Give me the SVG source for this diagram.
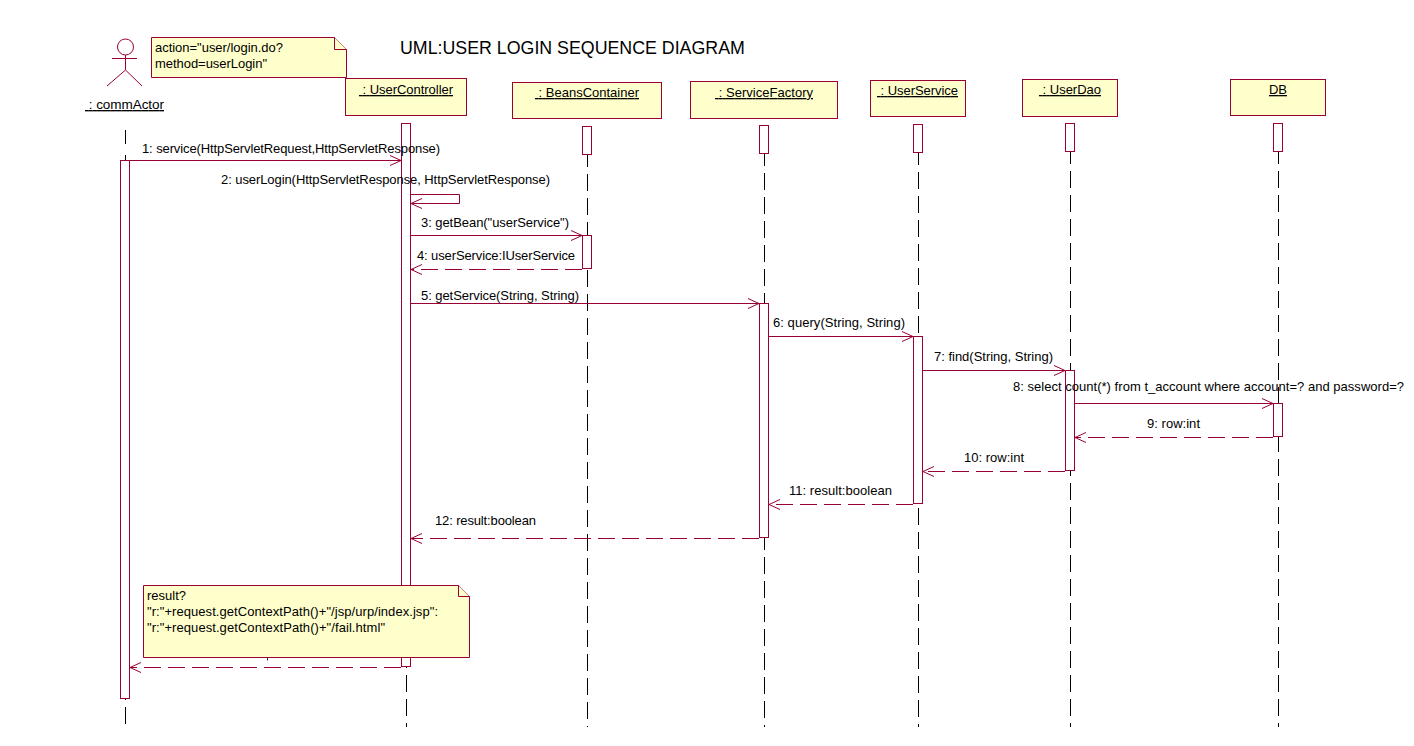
<svg xmlns="http://www.w3.org/2000/svg" width="1414" height="746" viewBox="0 0 1414 746">
<style>
text{font-family:"Liberation Sans",Arial,sans-serif;font-size:13px;fill:#000}
.box{fill:#ffffcc;stroke:#990033;stroke-width:1}
.act{fill:#fff;stroke:#990033;stroke-width:1}
.life{stroke:#000;stroke-width:1;stroke-dasharray:17 7;fill:none}
.msg{stroke:#990033;stroke-width:1;fill:none}
.ret{stroke:#990033;stroke-width:1;fill:none;stroke-dasharray:17 7}
.head{stroke:#990033;stroke-width:1;fill:none}
.u{text-decoration:underline}
</style>
<rect width="1414" height="746" fill="#fff"/>
<text x="400" y="54" style="font-size:17.800px">UML:USER LOGIN SEQUENCE DIAGRAM</text>
<g id="lifelines">
<path d="M125.500 130V144" stroke="#000" fill="none"/>
<path class="life" d="M125.500 155V727"/>
<path class="life" d="M406.500 123V727"/>
<path class="life" d="M587.500 126V727"/>
<path class="life" d="M764.500 125V727"/>
<path class="life" d="M918.500 124V727"/>
<path class="life" d="M1070.500 123V727"/>
<path class="life" d="M1278.500 123V727"/>
</g>
<g id="actor">
<circle class="msg" cx="125.500" cy="47" r="8"/>
<path class="msg" d="M125.500 55V70M112 58.500H137M125.500 70L107 86M125.500 70L142 86"/>
<text class="u" x="85" y="109" xml:space="preserve" style="font-size:13.500px" textLength="79"> : commActor</text>
<rect class="act" x="120.500" y="160.500" width="9" height="538"/>
</g>
<g id="usercontroller">
<rect class="box" x="345.500" y="78.500" width="121" height="37"/>
<text class="u" x="359" y="94" xml:space="preserve" textLength="94"> : UserController</text>
<rect class="act" x="401.500" y="123.500" width="9" height="543"/>
</g>
<g id="beanscontainer">
<rect class="box" x="512.500" y="82.500" width="149" height="36"/>
<text class="u" x="535" y="97" xml:space="preserve" textLength="104"> : BeansContainer</text>
<rect class="act" x="582.500" y="126.500" width="9" height="28"/>
<rect class="act" x="582.500" y="235.500" width="9" height="33"/>
</g>
<g id="servicefactory">
<rect class="box" x="690.500" y="81.500" width="147" height="37"/>
<text class="u" x="715" y="97" xml:space="preserve" textLength="98"> : ServiceFactory</text>
<rect class="act" x="759.500" y="125.500" width="9" height="28"/>
<rect class="act" x="759.500" y="303.500" width="9" height="234"/>
</g>
<g id="userservice">
<rect class="box" x="870.500" y="80.500" width="95" height="36"/>
<text class="u" x="877" y="95" xml:space="preserve" textLength="81"> : UserService</text>
<rect class="act" x="913.500" y="124.500" width="9" height="28"/>
<rect class="act" x="913.500" y="336.500" width="9" height="167"/>
</g>
<g id="userdao">
<rect class="box" x="1022.500" y="79.500" width="95" height="37"/>
<text class="u" x="1039" y="94" xml:space="preserve" textLength="62"> : UserDao</text>
<rect class="act" x="1065.500" y="123.500" width="9" height="28"/>
<rect class="act" x="1065.500" y="370.500" width="9" height="100"/>
</g>
<g id="db">
<rect class="box" x="1230.500" y="79.500" width="95" height="36"/>
<text class="u" x="1269" y="94" textLength="18">DB</text>
<rect class="act" x="1273.500" y="123.500" width="9" height="28"/>
<rect class="act" x="1273.500" y="403.500" width="9" height="33"/>
</g>
<g id="connectors">
<path class="msg" d="M130 160.500H401"/><path class="head" d="M390 155.500L401 160.500L390 165.500"/>
<path class="msg" d="M411 194.500H459.500V203.500H411"/><path class="head" d="M422 198.500L411 203.500L422 208.500"/>
<path class="msg" d="M411 235.500H582"/><path class="head" d="M571 230.500L582 235.500L571 240.500"/>
<path class="ret" d="M582 269.500H411"/><path class="head" d="M422 264.500L411 269.500L422 274.500"/>
<path class="msg" d="M411 303.500H759"/><path class="head" d="M748 298.500L759 303.500L748 308.500"/>
<path class="msg" d="M769 336.500H913"/><path class="head" d="M902 331.500L913 336.500L902 341.500"/>
<path class="msg" d="M923 370.500H1065"/><path class="head" d="M1054 365.500L1065 370.500L1054 375.500"/>
<path class="msg" d="M1075 403.500H1273"/><path class="head" d="M1262 398.500L1273 403.500L1262 408.500"/>
<path class="ret" d="M1273 437.500H1075"/><path class="head" d="M1086 432.500L1075 437.500L1086 442.500"/>
<path class="ret" d="M1065 471.500H923"/><path class="head" d="M934 466.500L923 471.500L934 476.500"/>
<path class="ret" d="M913 504.500H769"/><path class="head" d="M780 499.500L769 504.500L780 509.500"/>
<path class="ret" d="M759 538.500H411"/><path class="head" d="M422 533.500L411 538.500L422 543.500"/>
<path class="ret" d="M401 667.500H130"/><path class="head" d="M141 662.500L130 667.500L141 672.500"/>
<path d="M267.500 657V660.500" stroke="#003366" fill="none"/>
</g>
<g id="labels">
<text x="142" y="153" textLength="298">1: service(HttpServletRequest,HttpServletResponse)</text>
<text x="221" y="184" textLength="329">2: userLogin(HttpServletResponse, HttpServletResponse)</text>
<text x="421" y="227" textLength="148">3: getBean("userService")</text>
<text x="417" y="260" textLength="158">4: userService:IUserService</text>
<text x="421" y="300" textLength="158">5: getService(String, String)</text>
<text x="773" y="327" textLength="132">6: query(String, String)</text>
<text x="934" y="361" textLength="119">7: find(String, String)</text>
<text x="1013" y="391" textLength="391">8: select count(*) from t_account where account=? and password=?</text>
<text x="1147" y="428" textLength="53">9: row:int</text>
<text x="964" y="462" textLength="60">10: row:int</text>
<text x="789" y="495" textLength="103">11: result:boolean</text>
<text x="435" y="525" textLength="101">12: result:boolean</text>
</g>
<g id="note1">
<path class="box" d="M151.500 37.500H334.500L346.500 49.500V77.500H151.500Z"/>
<path class="box" d="M334.500 37.500V49.500H346.500"/>
<text x="155" y="52" textLength="128">action="user/login.do?</text>
<text x="155" y="68" textLength="112">method=userLogin"</text>
</g>
<g id="note2">
<path class="box" d="M143.500 585.500H458.500L469.500 596.500V657.500H143.500Z"/>
<path class="box" d="M458.500 585.500V596.500H469.500"/>
<text x="147" y="600" textLength="39">result?</text>
<text x="147" y="616" textLength="291">"r:"+request.getContextPath()+"/jsp/urp/index.jsp":</text>
<text x="147" y="632" textLength="238">"r:"+request.getContextPath()+"/fail.html"</text>
</g>
</svg>
